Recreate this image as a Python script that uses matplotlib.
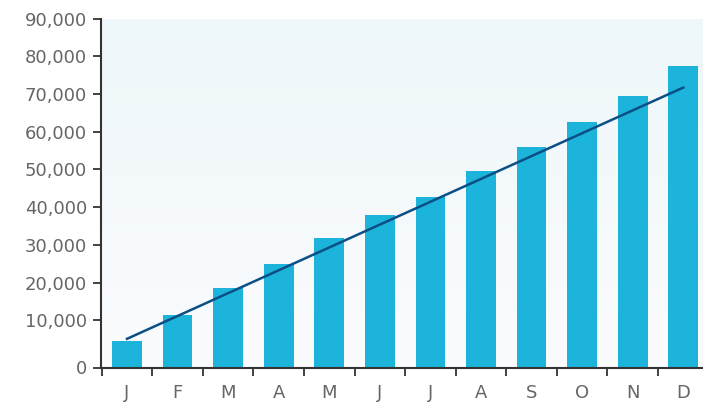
import numpy as np
import matplotlib.pyplot as plt
from matplotlib.colors import LinearSegmentedColormap

# === DATA ===
months = ["J", "F", "M", "A", "M", "J", "J", "A", "S", "O", "N", "D"]
sales = [4600, 11500, 18600, 25000, 31900, 37800, 42600, 49500, 56000, 62600, 69500, 77400]
trend_x = [0, 11]
trend_y = [5100, 71700]
ytick_vals = [10000, 20000, 30000, 40000, 50000, 60000, 70000, 80000, 90000]

# === STYLE ===
BAR_COLOR = "#1cb4da"
LINE_COLOR = "#0b4f86"
AXIS_COLOR = "#333333"
TEXT_COLOR = "#666666"
Y_MIN = -2500   # the plot floor sits a little below zero, labelled "0"
Y_MAX = 90000

fig = plt.figure(figsize=(7.03, 4.03), dpi=100)
ax = fig.add_axes([101 / 703, 1 - 367.5 / 403, 602 / 703, 349 / 403])

x = np.arange(len(months))
ax.set_xlim(-0.514, 11.39)
ax.set_ylim(Y_MIN, Y_MAX)

# soft background gradient
bg = LinearSegmentedColormap.from_list("bg", ["#fbfcfe", "#eef7fa"])
ax.imshow(np.linspace(0, 1, 256).reshape(-1, 1), cmap=bg, aspect="auto",
          extent=[-0.514, 11.39, Y_MIN, Y_MAX], origin="lower", zorder=0)

vals = np.array(sales, dtype=float)
ax.bar(x, vals - Y_MIN, bottom=Y_MIN, width=0.59, color=BAR_COLOR, zorder=2)
ax.plot(trend_x, trend_y, color=LINE_COLOR, lw=1.8, zorder=3)

# y axis
ax.set_yticks([Y_MIN] + ytick_vals)
ax.set_yticklabels(["0"] + [f"{v:,}" for v in ytick_vals])

# x axis: labels at bar centres, tick marks between categories
ax.set_xticks(x)
ax.set_xticklabels(months)
ax.set_xticks(np.arange(-0.5, 11.4, 1.0), minor=True)
ax.tick_params(axis="x", which="major", length=0, pad=12)
ax.tick_params(axis="x", which="minor", length=6, width=1.3, color=AXIS_COLOR)
ax.tick_params(axis="y", length=6, width=1.3, color=AXIS_COLOR, pad=4)
ax.tick_params(labelsize=13, labelcolor=TEXT_COLOR)

for s in ["top", "right"]:
    ax.spines[s].set_visible(False)
for s in ["left", "bottom"]:
    ax.spines[s].set_color(AXIS_COLOR)
    ax.spines[s].set_linewidth(1.5)

fig.savefig("out.png", dpi=100)
